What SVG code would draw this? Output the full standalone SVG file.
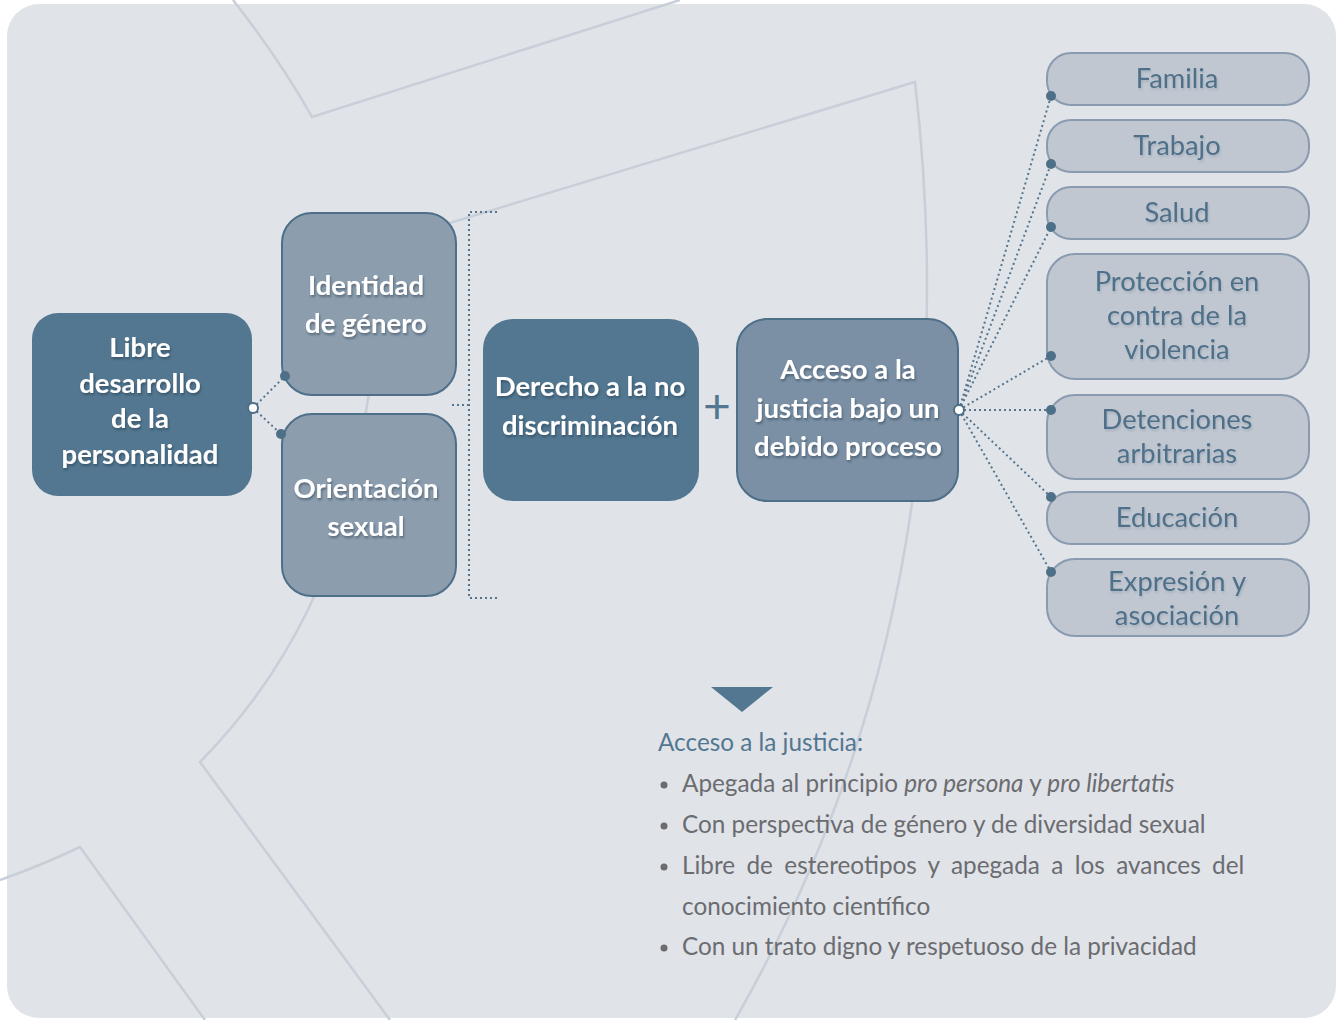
<svg xmlns="http://www.w3.org/2000/svg" width="1338" height="1020" viewBox="0 0 1338 1020">
<defs>
<style>
.deco{fill:none;stroke:#c8cfd9;stroke-width:2.5}
.dark{fill:#537791}
.mid{fill:#8c9dae;stroke:#4e6f88;stroke-width:2}
.acc{fill:#7b90a5;stroke:#4e6f88;stroke-width:2}
.lite{fill:#c0c7d1;stroke:#8a9bb0;stroke-width:2}
.wt{font-family:Lato,"Open Sans",sans-serif;font-weight:700;font-size:27.5px;fill:#ffffff;text-anchor:middle;filter:url(#sh)}
.lt{font-family:Lato,"Open Sans",sans-serif;font-size:27.3px;fill:#4f7089;text-anchor:middle;filter:url(#sh2)}
.dot{fill:none;stroke:#55758e;stroke-width:2;stroke-dasharray:2 3}
.pt{fill:#4e6f88}
.hub{fill:#ffffff;stroke:#4e6f88;stroke-width:2}
.body{font-family:Lato,"Open Sans",sans-serif;font-size:24.3px;fill:#6b6c70}
.head{font-family:Lato,"Open Sans",sans-serif;font-size:24.3px;fill:#537791}
</style>
<filter id="sh" x="-10%" y="-30%" width="120%" height="160%"><feDropShadow dx="1" dy="2" stdDeviation="1.2" flood-color="#1c2e3c" flood-opacity="0.45"/></filter>
<filter id="sh2" x="-10%" y="-30%" width="120%" height="160%"><feDropShadow dx="1" dy="2" stdDeviation="1.2" flood-color="#8090a0" flood-opacity="0.4"/></filter>
</defs>
<rect x="0" y="0" width="1338" height="1020" fill="#ffffff"/>
<rect x="7" y="4" width="1329" height="1014" rx="32" fill="#e0e3e8"/>
<g id="decoration">
<path class="deco" d="M233 0 Q280 60 312 117 L680 0"/>
<path class="deco" d="M410 235 L915 82 Q975 600 735 1020"/>
<path class="deco" d="M410 235 Q380 320 367 405 Q340 620 200 762 L390 1020"/>
<path class="deco" d="M0 880 Q40 866 80 847 L205 1020"/>
</g>
<g id="connectors">
<path class="dot" d="M253 408 L285 376 M253 408 L281 434"/>
<path class="dot" d="M497 212 L469 212 L469 598 L497 598 M452 405 L469 405"/>
<path class="dot" d="M959 410 L1051 96 M959 410 L1051 164 M959 410 L1051 227 M959 410 L1051 356 M959 410 L1051 410 M959 410 L1051 497 M959 410 L1051 572"/>
</g>
<g id="libre">
<rect class="dark" x="32" y="313" width="220" height="183" rx="26"/>
<text class="wt"><tspan x="140" y="357">Libre</tspan><tspan x="140" y="393">desarrollo</tspan><tspan x="140" y="428">de la</tspan><tspan x="140" y="464">personalidad</tspan></text>
</g>
<g id="identidad">
<rect class="mid" x="282" y="213" width="174" height="182" rx="30"/>
<text class="wt"><tspan x="366" y="295">Identidad</tspan><tspan x="366" y="333">de género</tspan></text>
</g>
<g id="orientacion">
<rect class="mid" x="282" y="414" width="174" height="182" rx="30"/>
<text class="wt"><tspan x="366" y="498">Orientación</tspan><tspan x="366" y="536">sexual</tspan></text>
</g>
<g id="derecho">
<rect class="dark" x="483" y="319" width="216" height="182" rx="30"/>
<text class="wt"><tspan x="590" y="396">Derecho a la no</tspan><tspan x="590" y="435">discriminación</tspan></text>
</g>
<text x="717" y="423" font-family="Lato,sans-serif" font-size="48" fill="#537791" text-anchor="middle">+</text>
<g id="acceso">
<rect class="acc" x="737" y="319" width="221" height="182" rx="30"/>
<text class="wt"><tspan x="848" y="379">Acceso a la</tspan><tspan x="848" y="418">justicia bajo un</tspan><tspan x="848" y="456">debido proceso</tspan></text>
</g>
<g id="familia"><rect class="lite" x="1047" y="53" width="262" height="52" rx="24"/><text class="lt" x="1177" y="88">Familia</text></g>
<g id="trabajo"><rect class="lite" x="1047" y="120" width="262" height="52" rx="24"/><text class="lt" x="1177" y="155">Trabajo</text></g>
<g id="salud"><rect class="lite" x="1047" y="187" width="262" height="52" rx="24"/><text class="lt" x="1177" y="222">Salud</text></g>
<g id="proteccion"><rect class="lite" x="1047" y="254" width="262" height="125" rx="28"/><text class="lt"><tspan x="1177" y="291">Protección en</tspan><tspan x="1177" y="325">contra de la</tspan><tspan x="1177" y="359">violencia</tspan></text></g>
<g id="detenciones"><rect class="lite" x="1047" y="395" width="262" height="84" rx="28"/><text class="lt"><tspan x="1177" y="429">Detenciones</tspan><tspan x="1177" y="463">arbitrarias</tspan></text></g>
<g id="educacion"><rect class="lite" x="1047" y="492" width="262" height="52" rx="24"/><text class="lt" x="1177" y="527">Educación</text></g>
<g id="expresion"><rect class="lite" x="1047" y="559" width="262" height="77" rx="28"/><text class="lt"><tspan x="1177" y="591">Expresión y</tspan><tspan x="1177" y="625">asociación</tspan></text></g>
<g id="points">
<circle class="hub" cx="253" cy="408" r="5"/>
<circle class="pt" cx="285" cy="376" r="5"/>
<circle class="pt" cx="281" cy="434" r="5"/>
<circle class="hub" cx="959" cy="410" r="5"/>
<circle class="pt" cx="1051" cy="96" r="5"/>
<circle class="pt" cx="1051" cy="164" r="5"/>
<circle class="pt" cx="1051" cy="227" r="5"/>
<circle class="pt" cx="1051" cy="356" r="5"/>
<circle class="pt" cx="1051" cy="410" r="5"/>
<circle class="pt" cx="1051" cy="497" r="5"/>
<circle class="pt" cx="1051" cy="572" r="5"/>
</g>
<polygon class="dark" points="711,687 773,687 742,712"/>
<g id="notes">
<text class="head" x="658" y="751">Acceso a la justicia:</text>
<g fill="#6b6c70"><circle cx="664" cy="785" r="3.5"/><circle cx="664" cy="826" r="3.5"/><circle cx="664" cy="867" r="3.5"/><circle cx="664" cy="948" r="3.5"/></g>
<text class="body" x="682" y="792">Apegada al principio <tspan font-style="italic">pro persona</tspan> y <tspan font-style="italic">pro libertatis</tspan></text>
<text class="body" x="682" y="833">Con perspectiva de género y de diversidad sexual</text>
<text class="body" x="682" y="874" word-spacing="5.2">Libre de estereotipos y apegada a los avances del</text>
<text class="body" x="682" y="915">conocimiento científico</text>
<text class="body" x="682" y="955">Con un trato digno y respetuoso de la privacidad</text>
</g>
</svg>
